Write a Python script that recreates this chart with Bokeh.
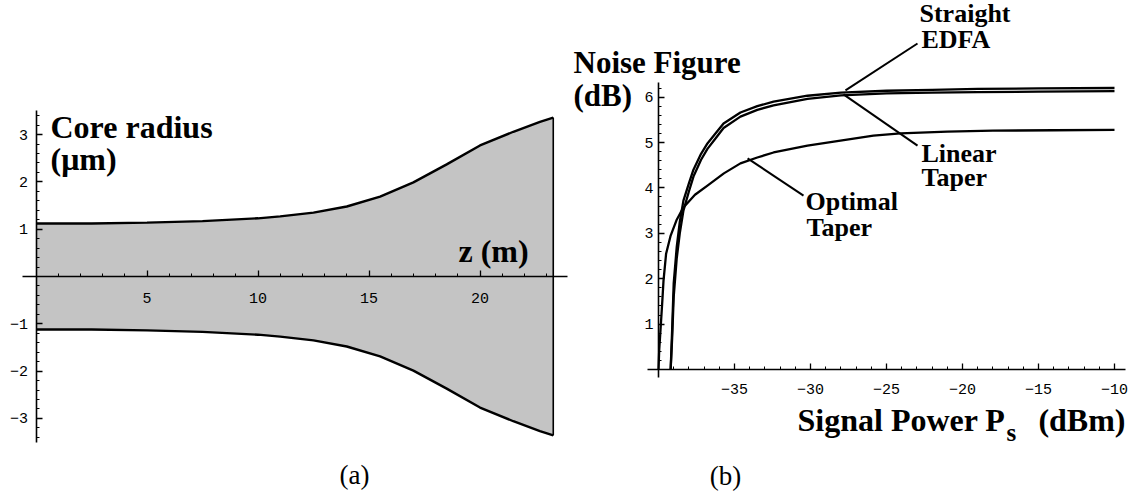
from bokeh.plotting import figure
from bokeh.layouts import row
from bokeh.models import LinearAxis, FixedTicker, Label, Range1d
from bokeh.embed import file_html
from bokeh.resources import INLINE

# ---------------- data ----------------
# (a) optimal taper: core radius (um) along the fiber length z (m)
z_m = [0.0, 2.5, 5.0, 7.5, 10.0, 11.0, 12.5, 14.0, 15.5, 17.0, 18.5, 20.0, 21.5, 22.7, 23.3]
core_radius_um = [1.12, 1.12, 1.14, 1.17, 1.23, 1.27, 1.35, 1.48, 1.69, 1.99, 2.37, 2.77, 3.06, 3.27, 3.36]
z_ticks = [5, 10, 15, 20]
r_ticks = [-3, -2, -1, 1, 2, 3]

# (b) noise figure (dB) versus input signal power (dBm)
ps_edfa = [-39.2, -39.1, -39.0, -38.8, -38.6, -38.36, -38.0, -37.7, -37.2, -36.78, -36.2,
           -35.72, -34.61, -33.5, -32.43, -30.2, -28.0, -25.0, -22.0, -19.0, -15.0, -10.0]
nf_straight = [0.0, 0.9, 1.9, 2.7, 3.25, 3.72, 4.1, 4.4, 4.75, 4.98, 5.22,
               5.42, 5.66, 5.80, 5.90, 6.03, 6.10, 6.14, 6.16, 6.18, 6.19, 6.20]
nf_linear = [0.0, 0.7, 1.6, 2.45, 3.0, 3.5, 3.92, 4.25, 4.62, 4.86, 5.11,
             5.32, 5.57, 5.72, 5.82, 5.96, 6.04, 6.08, 6.10, 6.11, 6.12, 6.13]
ps_optimal = [-40.0, -39.95, -39.87, -39.75, -39.67, -39.5, -39.2, -38.8, -38.36, -37.6, -36.78,
              -35.7, -34.61, -33.5, -32.43, -30.2, -28.03, -25.86, -24.08, -21.0, -18.0, -14.0, -10.0]
nf_optimal = [0.0, 0.45, 0.86, 1.5, 1.96, 2.55, 2.95, 3.3, 3.57, 3.85, 4.05,
              4.32, 4.54, 4.67, 4.78, 4.93, 5.04, 5.15, 5.20, 5.24, 5.26, 5.27, 5.28]
ps_ticks = [-35, -30, -25, -20, -15, -10]
nf_ticks = [1, 2, 3, 4, 5, 6]

# ---------------- styling ----------------
SERIF = "Liberation Serif"
MONO = "Liberation Mono"
INK = "black"


def axis(loc, bounds, ticks, minor, standoff):
    return LinearAxis(
        fixed_location=loc, bounds=bounds,
        ticker=FixedTicker(ticks=ticks, minor_ticks=minor),
        axis_line_color=INK, axis_line_width=1.6,
        major_tick_in=6, major_tick_out=0, major_tick_line_width=1.3,
        minor_tick_in=3, minor_tick_out=0, minor_tick_line_width=1,
        major_label_standoff=standoff,
        major_label_text_font=MONO, major_label_text_font_size="15px",
        major_label_text_color=INK,
    )


def label(p, x, y, text, size, bold=True, align="left", baseline="alphabetic"):
    p.add_layout(Label(x=x, y=y, text=text, text_font=SERIF,
                       text_font_style="bold" if bold else "normal",
                       text_font_size=size, text_color=INK,
                       text_align=align, text_baseline=baseline))


# ---------------- (a) core radius ----------------
W1, H = 568, 496
zx0, zsc = 35.5, 22.2      # pixel of z = 0, pixels per metre
ry0, rsc = 276.0, 47.3     # pixel of r = 0, pixels per micron


def ax_(px):
    return (px - zx0) / zsc


def ay_(py):
    return (ry0 - py) / rsc


pa = figure(width=W1, height=H, output_backend="svg", toolbar_location=None,
            x_range=Range1d(ax_(0), ax_(W1)), y_range=Range1d(ay_(H), ay_(0)),
            x_axis_location=None, y_axis_location=None, min_border=0)
pa.outline_line_color = None
pa.grid.visible = False
pa.background_fill_color = "white"

lower = [-r for r in core_radius_um]
pa.varea(x=z_m, y1=lower, y2=core_radius_um, fill_color="#c4c4c4")
pa.line(z_m, core_radius_um, line_color=INK, line_width=2.4)
pa.line(z_m, lower, line_color=INK, line_width=2.4)
pa.segment(x0=[z_m[-1]], y0=[lower[-1]], x1=[z_m[-1]], y1=[core_radius_um[-1]],
           line_color=INK, line_width=1.6)

pa.add_layout(axis(0, (ax_(22), ax_(567)), z_ticks, list(range(1, 24)), 16), "below")
pa.add_layout(axis(0, (-3.5, 3.5), r_ticks,
                   [round(-3.4 + 0.2 * i, 1) for i in range(35)], 8), "left")

label(pa, ax_(50), ay_(126), "Core radius", "32px")
label(pa, ax_(50), ay_(158), "(\u03bcm)", "32px")
label(pa, ax_(458), ay_(250), "z (m)", "32px")
label(pa, ax_(354), ay_(474), "(a)", "27px", bold=False, align="center", baseline="middle")

# ---------------- (b) noise figure ----------------
W2 = 1140 - W1
OFF = W1                   # left edge of this panel on the page
px0, psc = 658.0, 15.2     # page pixel of Ps = -40 dBm, pixels per dB
ny0, nsc = 369.0, 45.4     # pixel of NF = 0, pixels per dB


def bx_(px):
    return -40 + (px - px0) / psc


def by_(py):
    return (ny0 - py) / nsc


pb = figure(width=W2, height=H, output_backend="svg", toolbar_location=None,
            x_range=Range1d(bx_(OFF), bx_(OFF + W2)), y_range=Range1d(by_(H), by_(0)),
            x_axis_location=None, y_axis_location=None, min_border=0)
pb.outline_line_color = None
pb.grid.visible = False
pb.background_fill_color = "white"

pb.line(ps_optimal, nf_optimal, line_color=INK, line_width=2.3, line_join="round")
pb.line(ps_edfa, nf_straight, line_color=INK, line_width=2.3, line_join="round")
pb.line(ps_edfa, nf_linear, line_color=INK, line_width=2.3, line_join="round")

pb.add_layout(axis(0, (bx_(647), bx_(1125)), ps_ticks,
                   [m for m in range(-39, -9) if m % 5], 14), "below")
pb.add_layout(axis(-40, (by_(377), by_(82)), nf_ticks,
                   [round(0.2 * i, 1) for i in range(1, 32) if i % 5], 5), "left")

# leader lines from the curve names to the curves
pb.segment(x0=[-22.96, -27.83, -34.14], y0=[7.18, 6.06, 4.65],
           x1=[-27.70, -22.96, -30.46], y1=[6.15, 4.93, 3.83],
           line_color=INK, line_width=2.0)

label(pb, bx_(573), by_(62), "Noise Figure", "31px")
label(pb, bx_(573), by_(95), "(dB)", "31px")
label(pb, bx_(919), by_(13), "Straight", "26px")
label(pb, bx_(921), by_(39), "EDFA", "26px")
label(pb, bx_(921), by_(153), "Linear", "26px")
label(pb, bx_(921), by_(177), "Taper", "26px")
label(pb, bx_(805), by_(201), "Optimal", "26px")
label(pb, bx_(806), by_(227), "Taper", "26px")
label(pb, bx_(797), by_(419), "Signal Power P", "32px")
label(pb, bx_(1006), by_(432), "s", "25px")
label(pb, bx_(1125), by_(419), "(dBm)", "32px", align="right")
label(pb, bx_(725), by_(475), "(b)", "27px", bold=False, align="center", baseline="middle")

page = row(pa, pb, spacing=0)
open("out.html", "w").write(file_html(page, INLINE))
